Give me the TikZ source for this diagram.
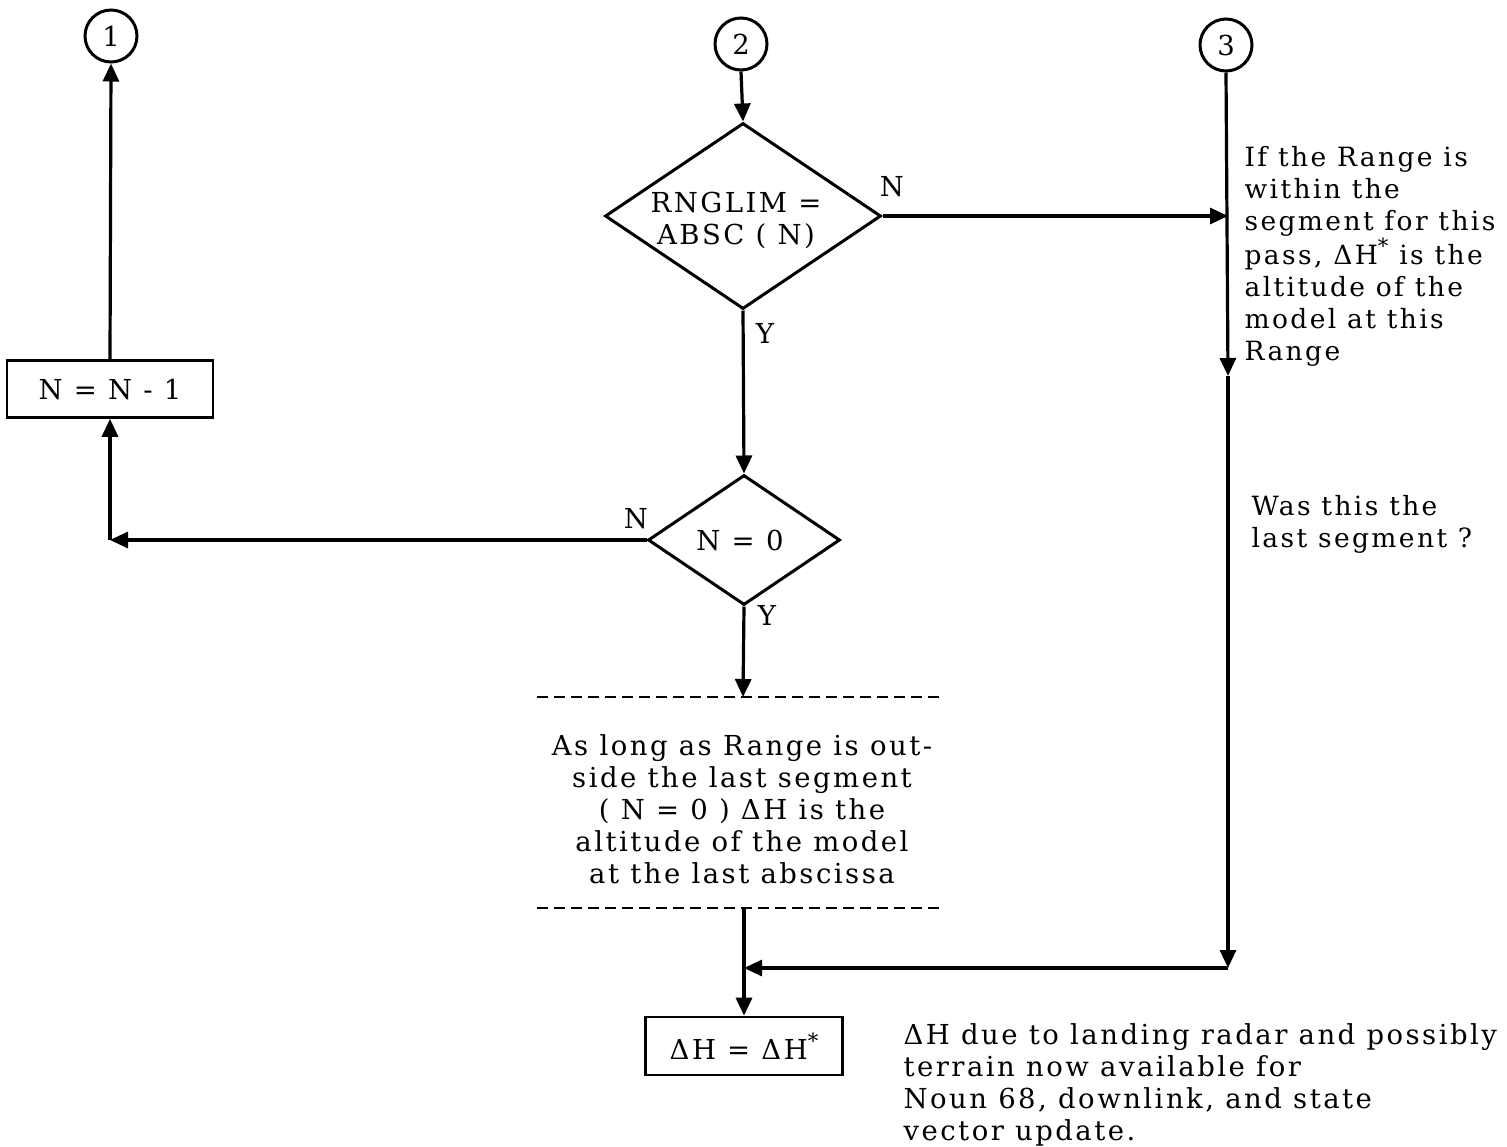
\documentclass[tikz,border=0pt]{standalone}
\usepackage{fontspec}
\setmainfont{DejaVu Serif}[LetterSpace=9]
\usetikzlibrary{arrows.meta,shapes.geometric}
\newcommand{\supast}{\raisebox{0.42em}{\fontsize{21}{21}\selectfont *}}
\begin{document}
\begin{tikzpicture}[x=1pt,y=-1pt,
  font=\fontsize{27.5}{32}\selectfont,
  line width=3.2pt,
  >={Triangle[length=18pt,width=16pt]},
  conn/.style={circle,draw,line width=3pt,minimum size=52pt,inner sep=0pt},
  decision/.style={diamond,draw,line width=3pt,inner sep=0pt},
  procbox/.style={draw,line width=2.6pt,inner sep=0pt},
  txt/.style={inner sep=0pt},
  sidetxt/.style={inner sep=0pt,align=left,anchor=north west,font=\fontsize{26.5}{32}\selectfont},
  sepline/.style={line width=2.4pt,dash pattern=on 11pt off 6pt}]
\useasboundingbox (0,0) rectangle (1507,1146);

% connectors
\node[conn] (c1) at (111,36) {1};
\node[conn] (c2) at (741,44) {2};
\node[conn] (c3) at (1226,45) {3};

% decisions
\node[decision,minimum width=276pt,minimum height=186pt] (d1) at (743,216) {};
\node[txt,align=center] (d1t) at (736,220) {RNGLIM =\\ABSC ( N)};
\node[decision,minimum width=192pt,minimum height=130pt] (d2) at (744,540) {};
\node[txt] (d2t) at (740,540) {N = 0};

% boxes
\node[procbox,minimum width=206pt,minimum height=57pt] (b1) at (110,389) {N = N - 1};
\node[procbox,minimum width=197pt,minimum height=58pt] (b2) at (744,1046) {ΔH = ΔH\supast};

% branch labels
\node[txt] (ln1) at (892,187) {N};
\node[txt] (ly1) at (765,333) {Y};
\node[txt] (ln2) at (636,519) {N};
\node[txt] (ly2) at (767,615) {Y};

% dashed separators
\coordinate (dtl) at (537,697);
\coordinate (dtr) at (945,697);
\coordinate (dbl) at (537,908);
\coordinate (dbr) at (945,908);
\coordinate (dt) at (743,697);
\coordinate (db) at (744,908);
\draw[sepline] (dtl) -- (dtr);
\draw[sepline] (dbl) -- (dbr);

\node[txt,align=center,anchor=north] (mid) at (742,733)
  {As long as Range is out-\\side the last segment\\( N = 0 ) ΔH is the\\altitude of the model\\at the last abscissa};

\node[sidetxt] (rt) at (1243,145)
  {If the Range is\\within the\\segment for this\\pass, ΔH\supast{} is the\\altitude of the\\model at this\\Range};
\node[sidetxt] (rq) at (1250,494)
  {Was this the\\last segment ?};

\node[txt,align=left,anchor=north west] (bt) at (902,1022)
  {ΔH due to landing radar and possibly\\terrain now available for\\Noun 68, downlink, and state\\vector update.};

% right trunk coordinates
\coordinate (rn) at (1228,216);
\coordinate (rm) at (1228,376);
\coordinate (rb) at (1228,968);
\coordinate (j) at (744,968);
\coordinate (lc) at (110,540);

% connectors
\draw[->] (c2.south) -- (d1.north);
\draw[->] (d1.south) -- (d2.north);
\draw[->] (d1.east) -- (rn);
\draw[->] (c3.south) -- (rm);
\draw[->] (rm) -- (rb);
\draw[->] (rb) -- (j);
\draw[->] (d2.west) -- (lc);
\draw[->] (lc) -- (b1.south);
\draw[->] (b1.north) -- (c1.south);
\draw[->] (d2.south) -- (dt);
\draw[->] (db) -- (b2.north);
\end{tikzpicture}
\end{document}
